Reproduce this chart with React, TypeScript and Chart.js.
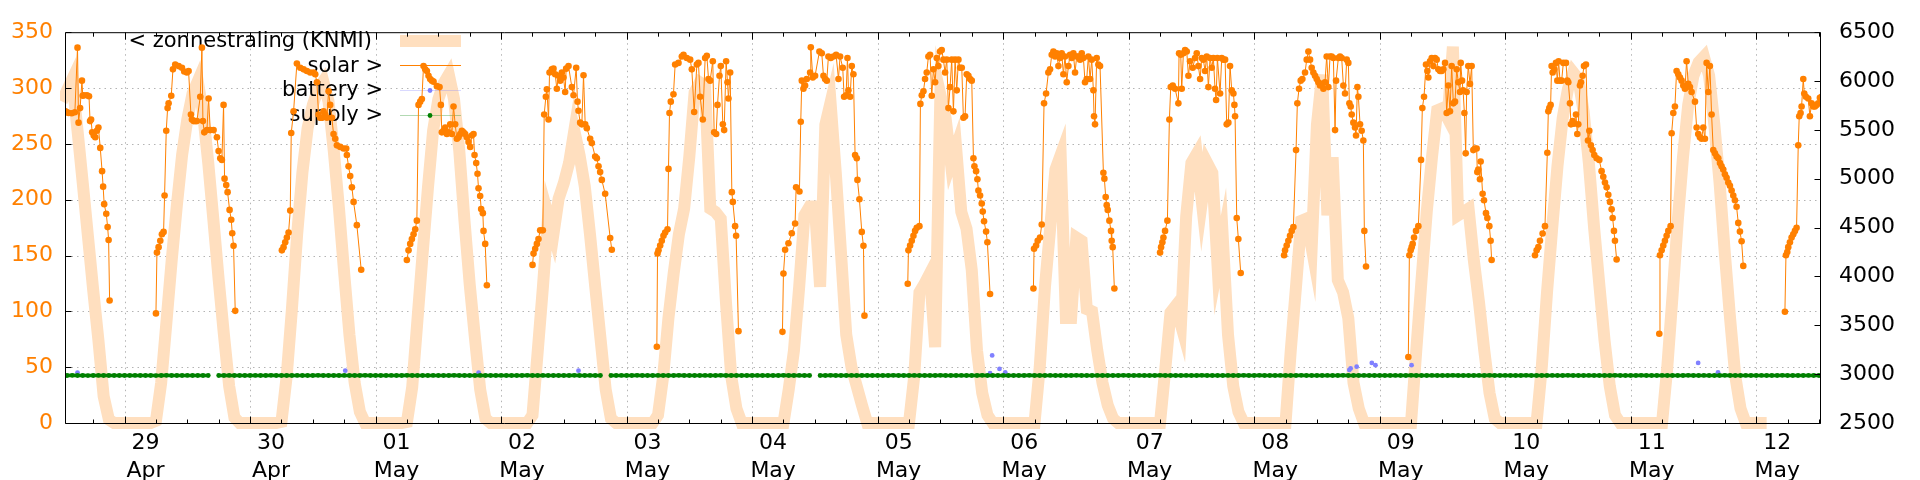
import React, { useEffect, useRef } from 'react';
import { Chart, registerables } from 'chart.js';

Chart.register(...registerables);

// x values: hours since 29 Apr 00:00
const X_MIN = -11.2;
const X_MAX = 324.2;

const dayNumbers = ['29', '30', '01', '02', '03', '04', '05', '06', '07', '08', '09', '10', '11', '12'];
const monthNames = ['Apr', 'Apr', 'May', 'May', 'May', 'May', 'May', 'May', 'May', 'May', 'May', 'May', 'May', 'May'];
const leftTicks = [0, 50, 100, 150, 200, 250, 300, 350];
const leftGrid = [50, 100, 150, 200, 250, 300];
const rightTicks = [2500, 3000, 3500, 4000, 4500, 5000, 5500, 6000, 6500];

const legendLabels = ['< zonnestraling (KNMI)', 'solar >', 'battery >', 'supply >'];

// KNMI hourly irradiation (left axis), per day, first value at given start hour
const knmi_0428 = [288, 298, 308, 262, 215, 167, 119, 74, 24, 3, 0, 0];
const knmi_0429 = [0, 0, 0, 0, 0, 0, 2, 36, 90, 145, 195, 240, 272, 295, 306, 278, 233, 181, 128, 79, 33, 5, 0, 0];
const knmi_0430 = [0, 0, 0, 0, 0, 0, 1, 42, 102, 169, 224, 264, 285, 299, 306, 288, 244, 192, 134, 79, 36, 10, 0, 0];
const knmi_0501 = [0, 0, 0, 0, 0, 0, 1, 32, 92, 152, 210, 262, 290, 304, 312, 290, 244, 181, 124, 76, 30, 4, 0, 0];
const knmi_0502 = [0, 0, 0, 0, 0, 0, 7, 64, 122, 186, 169, 201, 215, 233, 262, 240, 212, 169, 122, 76, 30, 4, 0, 0];
const knmi_0503 = [0, 0, 0, 0, 0, 0, 7, 42, 94, 134, 169, 192, 239, 296, 305, 302, 192, 189, 183, 108, 42, 13, 0, 0];
const knmi_0504 = [0, 0, 0, 0, 0, 0, 0, 30, 65, 122, 186, 194, 194, 122, 267, 287, 224, 152, 79, 50, 33, 16, 0, 0];
const knmi_0505 = [0, 0, 0, 0, 0, 0, 0, 42, 117, 125, 134, 68, 294, 273, 233, 247, 189, 174, 137, 65, 27, 7, 0, 0];
const knmi_0506 = [0, 0, 0, 0, 0, 0, 0, 50, 122, 175, 227, 240, 94, 94, 166, 163, 102, 100, 65, 36, 16, 4, 0, 0];
const knmi_0507 = [0, 0, 0, 0, 0, 0, 0, 48, 99, 105, 88, 185, 233, 241, 198, 233, 224, 141, 166, 79, 33, 10, 0, 0];
const knmi_0508 = [0, 0, 0, 0, 0, 0, 0, 65, 122, 181, 183, 157, 267, 312, 186, 238, 128, 117, 94, 36, 13, 0, 0, 0];
const knmi_0509 = [0, 0, 0, 0, 0, 0, 0, 65, 128, 189, 238, 280, 282, 273, 337, 186, 189, 192, 146, 108, 65, 27, 4, 0];
const knmi_0510 = [0, 0, 0, 0, 0, 0, 0, 50, 117, 175, 230, 273, 299, 314, 308, 279, 233, 175, 124, 74, 33, 7, 0, 0];
const knmi_0511 = [0, 0, 0, 0, 0, 0, 0, 50, 114, 181, 238, 285, 311, 323, 328, 311, 267, 215, 152, 94, 42, 13, 0, 0];
const knmi_0512 = [0, 0, 0];

// solar (right axis): [hour of day, value]
const solar_0428 = [[12.6, 5760], [12.7, 5690], [13.0, 5680], [13.3, 5673], [13.9, 5670], [14.5, 5680], [15.0, 6342], [15.2, 5574], [15.5, 5723], [15.85, 6004], [16.0, 5850], [16.2, 5855], [16.8, 5855], [17.2, 5845], [17.4, 5590], [17.6, 5607], [17.8, 5475], [18.1, 5442], [18.4, 5425], [18.7, 5491], [19.0, 5524], [19.35, 5316], [19.7, 5078], [19.9, 4919], [20.1, 4740], [20.5, 4641], [20.76, 4505], [20.95, 4373], [21.14, 3754]];
const solar_0429 = [[6.0, 3622], [6.19, 4244], [6.51, 4300], [6.83, 4366], [7.14, 4432], [7.46, 4456], [7.65, 4829], [7.97, 5491], [8.23, 5723], [8.42, 5772], [8.93, 5849], [9.25, 6120], [9.69, 6170], [10.33, 6153], [10.97, 6136], [11.41, 6097], [11.92, 6087], [12.24, 6103], [12.69, 5657], [12.88, 5607], [13.2, 5590], [13.52, 5590], [13.83, 5590], [14.47, 5839], [14.79, 6342], [14.98, 5590], [15.24, 5475], [15.75, 5498], [16.07, 5822], [16.38, 5498], [17.02, 5498], [17.66, 5425], [17.98, 5283], [18.3, 5210], [18.61, 5193], [18.93, 5756], [19.12, 5001], [19.44, 4935], [19.7, 4863], [20.08, 4681], [20.4, 4581], [20.59, 4442], [20.84, 4313], [21.16, 3648]];
const solar_0430 = [[6.08, 4267], [6.4, 4300], [6.72, 4350], [7.04, 4399], [7.36, 4449], [7.68, 4674], [7.87, 5468], [8.32, 5690], [8.95, 6179], [9.59, 6136], [10.23, 6120], [10.87, 6103], [11.5, 6087], [12.14, 6087], [12.46, 6070], [12.78, 5988], [13.09, 5657], [13.41, 5624], [13.73, 5624], [14.05, 5690], [14.37, 5657], [14.69, 5624], [15.01, 5895], [15.32, 5756], [15.64, 5624], [15.96, 5458], [16.28, 5409], [16.6, 5342], [17.24, 5326], [17.87, 5309], [18.38, 5309], [18.51, 5243], [18.83, 5127], [19.15, 5028], [19.47, 4912], [19.79, 4763], [20.42, 4525], [21.25, 4068]];
const solar_0501 = [[5.98, 4168], [6.3, 4267], [6.62, 4333], [6.94, 4383], [7.26, 4432], [7.58, 4482], [7.89, 4571], [8.21, 5756], [8.53, 5789], [8.85, 5815], [9.17, 6153], [9.49, 6120], [9.81, 6103], [10.12, 6054], [10.44, 6021], [10.76, 6004], [11.08, 5994], [11.72, 5948], [12.23, 5938], [12.48, 5756], [12.67, 5475], [12.99, 5491], [13.31, 5524], [13.63, 5458], [13.95, 5475], [14.27, 5557], [14.59, 5458], [14.9, 5739], [15.22, 5557], [15.54, 5409], [15.86, 5425], [16.18, 5458], [16.5, 5491], [16.82, 5475], [17.13, 5458], [17.45, 5425], [17.77, 5375], [18.09, 5326], [18.41, 5442], [18.73, 5458], [18.92, 5243], [19.24, 5160], [19.49, 5051], [19.68, 4902], [20.0, 4823], [20.19, 4691], [20.51, 4648], [20.64, 4466], [20.96, 4333], [21.28, 3910]];
const solar_0502 = [[6.01, 4118], [6.2, 4234], [6.52, 4284], [6.84, 4333], [7.15, 4383], [7.47, 4472], [7.98, 4472], [8.24, 5657], [8.56, 5839], [8.75, 5915], [9.07, 5607], [9.26, 6087], [9.7, 6120], [10.02, 6127], [10.34, 6070], [10.66, 5921], [10.98, 6054], [11.3, 6004], [11.62, 6087], [11.93, 6037], [12.25, 5888], [12.44, 6127], [12.89, 6153], [13.53, 5938], [13.85, 5855], [14.36, 6136], [14.61, 5789], [14.8, 5696], [15.12, 5574], [15.44, 5557], [15.76, 6060], [16.08, 5557], [16.39, 5518], [17.03, 5409], [17.35, 5365], [17.99, 5227], [18.31, 5210], [18.63, 5127], [18.94, 5068], [19.26, 4988], [19.9, 4846], [20.86, 4393], [21.17, 4274]];
const solar_0503 = [[5.78, 3281], [5.91, 4234], [6.1, 4267], [6.42, 4317], [6.73, 4366], [7.05, 4416], [7.37, 4449], [7.82, 4482], [8.01, 5101], [8.2, 5673], [8.45, 5789], [8.96, 5865], [9.28, 6170], [9.92, 6186], [10.56, 6252], [10.88, 6269], [11.51, 6236], [12.15, 6219], [12.47, 6120], [12.92, 5683], [13.43, 6170], [13.74, 6186], [14.06, 5839], [14.57, 5607], [15.02, 6236], [15.34, 6259], [15.66, 6021], [15.97, 6004], [16.48, 6203], [16.74, 5475], [17.12, 5458], [17.38, 5756], [17.76, 6054], [18.01, 6153], [18.4, 5557], [18.65, 5498], [19.03, 6203], [19.29, 5988], [19.48, 5822], [19.8, 6087], [20.12, 4863], [20.31, 4763], [20.75, 4515], [20.94, 4416], [21.39, 3440]];
const solar_0504 = [[5.8, 3433], [5.99, 4029], [6.31, 4274], [6.95, 4340], [7.58, 4442], [8.22, 4542], [8.41, 4912], [9.05, 4869], [9.3, 5584], [9.5, 6004], [9.81, 5921], [10.13, 5954], [10.45, 6021], [11.09, 6087], [11.22, 6345], [11.6, 6037], [12.04, 6054], [12.87, 6302], [13.32, 6285], [13.64, 6054], [13.96, 6021], [14.28, 6004], [14.59, 6252], [15.04, 6236], [15.55, 6252], [16.06, 6269], [16.51, 6021], [16.82, 6252], [17.33, 6136], [17.59, 5839], [17.97, 5855], [18.23, 6236], [18.42, 5905], [18.74, 5839], [19.06, 6153], [19.37, 6070], [19.69, 5243], [20.01, 5210], [20.14, 4988], [20.52, 4790], [20.97, 4456], [21.29, 4313], [21.48, 3599]];
const solar_0505 = [[5.76, 3926], [5.89, 4267], [6.21, 4317], [6.53, 4366], [6.85, 4416], [7.16, 4466], [7.48, 4499], [7.99, 4515], [8.18, 5766], [8.44, 5855], [8.76, 5895], [9.07, 6021], [9.39, 6087], [9.71, 6252], [10.03, 6269], [10.35, 5849], [10.67, 6120], [10.99, 5988], [11.3, 6236], [11.62, 6153], [11.94, 6302], [12.26, 6318], [12.58, 6219], [12.9, 6087], [13.22, 6219], [13.54, 5723], [13.85, 5938], [14.17, 6219], [14.49, 5690], [14.81, 6219], [15.13, 5905], [15.45, 6219], [15.77, 6136], [16.09, 6136], [16.4, 5624], [16.72, 5640], [17.04, 6070], [17.36, 6054], [17.68, 6021], [18.0, 6004], [18.32, 5210], [18.51, 5127], [18.83, 5078], [19.08, 4995], [19.27, 4879], [19.59, 4829], [19.91, 4747], [20.1, 4664], [20.35, 4565], [20.74, 4459], [20.99, 4350], [21.5, 3820]];
const solar_0506 = [[5.79, 3877], [5.91, 4284], [6.3, 4317], [6.61, 4366], [7.06, 4399], [7.38, 4532], [7.82, 5772], [8.21, 5872], [8.65, 6087], [8.97, 6120], [9.29, 6269], [9.61, 6302], [9.93, 6252], [10.25, 6285], [10.57, 6153], [10.88, 6236], [11.2, 6285], [11.52, 6070], [11.84, 6252], [12.16, 5988], [12.48, 6153], [12.8, 6269], [13.11, 6236], [13.43, 6285], [13.75, 6087], [14.07, 6252], [14.39, 6252], [14.71, 6219], [15.03, 6285], [15.35, 6236], [15.66, 5988], [15.98, 6021], [16.3, 6252], [16.62, 6021], [16.94, 6219], [17.26, 5905], [17.38, 5640], [17.57, 5557], [17.89, 6236], [18.21, 6170], [18.53, 6153], [19.17, 5061], [19.36, 5001], [19.61, 4813], [19.81, 4730], [20.0, 4681], [20.32, 4571], [20.63, 4466], [20.76, 4366], [20.95, 4300], [21.27, 3877]];
const solar_0507 = [[6.01, 4244], [6.2, 4300], [6.45, 4350], [6.65, 4399], [6.96, 4466], [7.41, 4571], [7.79, 5607], [8.05, 5938], [8.43, 5954], [8.88, 5921], [9.51, 5772], [9.64, 6285], [9.96, 6269], [10.15, 5921], [10.47, 6285], [10.79, 6318], [11.11, 6302], [11.43, 6054], [11.74, 6203], [12.25, 6136], [12.7, 6236], [13.02, 6285], [13.34, 6153], [13.66, 6021], [13.97, 6236], [14.29, 6219], [14.61, 6103], [14.93, 6252], [15.25, 5938], [15.57, 6236], [15.89, 6136], [16.2, 6236], [16.52, 5921], [16.72, 5806], [16.97, 6236], [17.48, 5872], [17.8, 6236], [18.12, 6219], [18.44, 6219], [18.75, 5557], [19.07, 5574], [19.39, 6153], [19.71, 5905], [20.03, 5872], [20.22, 5756], [20.35, 5640], [20.67, 4598], [20.98, 4383], [21.43, 4035]];
const solar_0508 = [[5.72, 4217], [5.91, 4267], [6.22, 4317], [6.54, 4366], [6.86, 4416], [7.18, 4466], [7.5, 4505], [8.01, 5293], [8.26, 5772], [8.58, 5921], [8.9, 6004], [9.22, 6021], [9.73, 6087], [10.05, 6219], [10.37, 6302], [10.69, 6219], [11.0, 6136], [11.32, 6087], [11.64, 6054], [11.96, 6021], [12.28, 5988], [12.6, 5954], [12.92, 5971], [13.24, 5921], [13.55, 5988], [13.87, 6252], [14.19, 5938], [14.51, 6252], [14.83, 6252], [15.15, 6236], [15.47, 5498], [15.66, 6004], [16.1, 6236], [16.42, 6252], [16.74, 6236], [17.06, 5954], [17.38, 5872], [17.7, 6219], [18.01, 6186], [18.21, 5772], [18.46, 5739], [18.65, 5657], [18.97, 5574], [19.29, 5524], [19.48, 5442], [19.74, 5938], [19.93, 5839], [20.25, 5557], [20.56, 5491], [20.88, 5392], [21.07, 4466], [21.39, 4102]];
const solar_0509 = [[5.48, 3175], [5.68, 4217], [5.93, 4267], [6.12, 4300], [6.31, 4333], [6.57, 4399], [6.95, 4466], [7.4, 4515], [7.91, 5193], [8.16, 5723], [8.48, 5839], [8.86, 6170], [9.12, 6103], [9.31, 6037], [9.63, 6203], [9.95, 6236], [10.27, 6153], [10.58, 6236], [10.9, 6219], [11.22, 6120], [11.54, 6103], [11.86, 6103], [12.18, 6120], [12.5, 6186], [12.81, 5673], [13.13, 5954], [13.45, 5690], [13.77, 6153], [14.09, 5772], [14.41, 5789], [14.73, 6120], [15.04, 5988], [15.36, 5888], [15.5, 6186], [15.75, 6004], [15.95, 5905], [16.2, 5673], [16.45, 5260], [16.63, 5888], [16.95, 6153], [17.27, 5971], [17.59, 6153], [17.91, 5293], [18.23, 5309], [18.55, 5309], [18.67, 5068], [18.86, 5094], [19.18, 4995], [19.31, 5177], [19.69, 4846], [19.95, 4780], [20.33, 4648], [20.59, 4598], [20.97, 4515], [21.22, 4366], [21.41, 4168]];
const solar_0510 = [[5.7, 4217], [6.02, 4267], [6.34, 4300], [6.65, 4366], [7.16, 4439], [7.61, 4515], [8.06, 5266], [8.25, 5690], [8.44, 5723], [8.69, 5756], [8.88, 6153], [9.08, 6087], [9.39, 6120], [9.71, 6186], [9.97, 6004], [10.22, 6203], [10.48, 6004], [10.8, 6004], [11.12, 6186], [11.63, 6186], [11.88, 6004], [12.07, 5988], [12.39, 5772], [12.58, 5557], [12.9, 5590], [13.15, 5564], [13.54, 5657], [13.79, 5458], [13.98, 5557], [14.3, 5954], [14.49, 5988], [14.81, 6054], [15.07, 6153], [15.45, 6170], [15.83, 5392], [16.09, 5491], [16.4, 5342], [16.72, 5293], [17.04, 5243], [17.49, 5210], [18.0, 5193], [18.44, 5078], [18.76, 5021], [19.08, 4962], [19.4, 4912], [19.72, 4836], [20.04, 4763], [20.36, 4687], [20.55, 4598], [20.8, 4466], [20.99, 4366], [21.31, 4174]];
const solar_0511 = [[5.47, 3413], [5.6, 4217], [5.92, 4267], [6.23, 4317], [6.55, 4366], [6.87, 4416], [7.19, 4466], [7.63, 4515], [7.83, 5465], [8.15, 5673], [8.46, 5739], [8.78, 6103], [9.1, 6070], [9.42, 6037], [9.74, 6004], [10.06, 5954], [10.38, 5921], [10.69, 6203], [11.01, 5971], [11.33, 5938], [11.65, 5888], [12.29, 5789], [12.61, 5524], [12.92, 5458], [13.24, 5425], [13.56, 5409], [13.88, 5524], [14.2, 5409], [14.52, 6186], [14.84, 5888], [15.15, 6153], [15.47, 5657], [15.79, 5293], [16.11, 5260], [16.43, 5227], [16.75, 5210], [17.07, 5160], [17.38, 5127], [17.7, 5094], [18.02, 5045], [18.34, 5011], [18.66, 4962], [18.98, 4929], [19.3, 4879], [19.62, 4829], [19.93, 4780], [20.25, 4714], [20.57, 4548], [20.89, 4459], [21.21, 4360], [21.53, 4108]];
const solar_0512 = [[5.49, 3638], [5.69, 4217], [5.94, 4250], [6.13, 4300], [6.45, 4350], [6.77, 4399], [7.09, 4432], [7.41, 4466], [7.72, 4499], [8.04, 5342], [8.23, 5640], [8.49, 5673], [8.68, 5739], [9.0, 6021], [9.19, 5872], [9.51, 5839], [9.95, 5822], [10.27, 5640], [10.59, 5772], [10.91, 5739], [11.23, 5739], [11.55, 5756], [11.87, 5772], [12.18, 5829], [12.5, 5839]];

// battery (right axis): [hours since 29 Apr 00:00, value]
const batteryPoints = [[-9.0, 3016], [42.2, 3036], [67.7, 3016], [86.8, 3036], [165.5, 3009], [165.9, 3192], [167.3, 3053], [168.4, 3019], [234.2, 3043], [234.45, 3059], [235.6, 3076], [238.5, 3115], [239.2, 3092], [246.1, 3092], [300.9, 3115], [304.7, 3019]];

// supply (right axis), hourly
const supply_0428 = [2986, 2986, 2988, 2986, 2986, 2985, 2986, 2987, 2986, 2986, 2986, 2986];
const supply_0429 = [2986, 2986, 2987, 2986, 2986, 2986, 2985, 2986, 2988, 2986, 2986, 2986, 2987, 2986, 2986, 2986, 2986, null, 2986, 2986, 2987, 2986, 2986, 2986];
const supply_0430 = [2986, 2987, 2986, 2986, 2988, 2986, 2986, 2986, 2986, 2987, 2986, 2986, 2986, 2988, 2986, 2986, 2986, 2986, 2987, 2986, 2986, 2986, 2988, 2986];
const supply_0501 = [2986, 2986, 2986, 2987, 2986, 2986, 2988, 2986, 2986, 2986, 2986, 2987, 2986, 2986, 2986, 2988, 2986, 2986, 2986, 2986, 2987, 2986, 2986, 2986];
const supply_0502 = [2987, 2986, 2986, 2986, 2986, 2988, 2986, 2986, 2987, 2986, 2986, 2986, 2986, 2986, 2988, 2986, 2986, 2987, 2986, 2986, null, 2986, 2986, 2987];
const supply_0503 = [2986, 2986, 2988, 2986, 2986, 2986, 2987, 2986, 2986, 2986, 2988, 2986, 2986, 2986, 2986, 2987, 2986, 2986, 2988, 2986, 2986, 2986, 2986, 2986];
const supply_0504 = [2986, 2987, 2986, 2986, 2986, 2986, 2988, 2986, 2986, 2987, 2986, 2986, null, 2986, 2986, 2988, 2986, 2986, 2986, 2987, 2986, 2986, 2986, 2986];
const supply_0505 = [2986, 2986, 2986, 2988, 2986, 2986, 2986, 2987, 2986, 2986, 2986, 2986, 2988, 2986, 2986, 2986, 2987, 2986, 2986, 2986, 2988, 2986, 2986, 2986];
const supply_0506 = [2987, 2986, 2986, 2986, 2986, 2988, 2986, 2986, 2986, 2987, 2986, 2986, 2986, 2986, 2988, 2986, 2986, 2986, 2987, 2986, 2986, 2986, 2986, 2988];
const supply_0507 = [2986, 2986, 2987, 2986, 2986, 2986, 2988, 2986, 2986, 2986, 2986, 2987, 2986, 2986, 2988, 2986, 2986, 2986, 2986, 2987, 2986, 2986, 2988, 2986];
const supply_0508 = [2986, 2988, 2986, 2986, 2986, 2987, 2986, 2986, 2986, 2988, 2986, 2986, 2986, 2986, 2987, 2986, 2986, 2988, 2986, 2986, 2986, 2987, 2986, 2986];
const supply_0509 = [2986, 2986, 2986, 2987, 2986, 2986, 2988, 2986, 2986, 2986, 2987, 2986, 2986, 2986, 2988, 2986, 2986, 2986, 2986, 2987, 2986, 2988, 2986, 2986];
const supply_0510 = [2987, 2986, 2986, 2986, 2988, 2986, 2986, 2986, 2986, 2987, 2986, 2986, 2988, 2986, 2986, 2986, 2987, 2986, 2986, 2986, 2986, 2988, 2986, 2986];
const supply_0511 = [2986, 2986, 2988, 2986, 2986, 2986, 2987, 2986, 2986, 2986, 2986, 2988, 2986, 2986, 2987, 2986, 2986, 2986, 2988, 2986, 2986, 2986, 2987, 2986];
const supply_0512 = [2986, 2987, 2986, 2986, 2986, 2988, 2986, 2986, 2986, 2986, 2987, 2986, 2986];

// [day offset from 29 Apr, first hour, values]
const knmiDays: [number, number, number[]][] = [
  [-1, 12, knmi_0428], [0, 0, knmi_0429], [1, 0, knmi_0430], [2, 0, knmi_0501], [3, 0, knmi_0502],
  [4, 0, knmi_0503], [5, 0, knmi_0504], [6, 0, knmi_0505], [7, 0, knmi_0506], [8, 0, knmi_0507],
  [9, 0, knmi_0508], [10, 0, knmi_0509], [11, 0, knmi_0510], [12, 0, knmi_0511], [13, 0, knmi_0512],
];
const supplyDays: [number, number, (number | null)[]][] = [
  [-1, 12, supply_0428], [0, 0, supply_0429], [1, 0, supply_0430], [2, 0, supply_0501], [3, 0, supply_0502],
  [4, 0, supply_0503], [5, 0, supply_0504], [6, 0, supply_0505], [7, 0, supply_0506], [8, 0, supply_0507],
  [9, 0, supply_0508], [10, 0, supply_0509], [11, 0, supply_0510], [12, 0, supply_0511], [13, 0, supply_0512],
];
const solarDays: [number, number[][]][] = [
  [-1, solar_0428], [0, solar_0429], [1, solar_0430], [2, solar_0501], [3, solar_0502],
  [4, solar_0503], [5, solar_0504], [6, solar_0505], [7, solar_0506], [8, solar_0507],
  [9, solar_0508], [10, solar_0509], [11, solar_0510], [12, solar_0511], [13, solar_0512],
];

const ORANGE = '#ff8000';
const BAND = '#ffdfbf';
const BLUE = '#8080ff';
const GREEN = '#008000';
const FONT = "'DejaVu Sans', sans-serif";

const dayTickHours = dayNumbers.map((_, i) => i * 24);

function hourlySeries(days: [number, number, (number | null)[]][]) {
  const out: { x: number; y: number | null }[] = [];
  days.forEach(([off, start, vals]) => {
    vals.forEach((v, i) => out.push({ x: off * 24 + start + i, y: v }));
  });
  return out;
}

function solarSeries() {
  const out: { x: number; y: number | null }[] = [];
  solarDays.forEach(([off, pts]) => {
    pts.forEach(([h, v]) => out.push({ x: off * 24 + h, y: v }));
    out.push({ x: off * 24 + 23, y: null });
  });
  return out;
}

const framePlugin = {
  id: 'frame',
  beforeDatasetsDraw(chart: any) {
    const { ctx, chartArea: a, scales } = chart;
    ctx.save();
    ctx.strokeStyle = '#b4b4b4';
    ctx.lineWidth = 1;
    ctx.setLineDash([1.5, 4]);
    leftGrid.forEach((v) => {
      const y = Math.round(scales.y.getPixelForValue(v)) + 0.5;
      ctx.beginPath();
      ctx.moveTo(a.left, y);
      ctx.lineTo(a.right, y);
      ctx.stroke();
    });
    dayTickHours.forEach((h) => {
      const x = Math.round(scales.x.getPixelForValue(h)) + 0.5;
      ctx.beginPath();
      ctx.moveTo(x, a.top);
      ctx.lineTo(x, a.bottom);
      ctx.stroke();
    });
    ctx.restore();
  },
  afterDatasetDraw(chart: any, args: any) {
    if (args.index !== 0) return;
    const { ctx } = chart;
    ctx.save();
    ctx.font = `21px ${FONT}`;
    ctx.fillStyle = '#000';
    ctx.textAlign = 'right';
    ctx.textBaseline = 'middle';
    ctx.fillText(legendLabels[0], 372, 42);
    ctx.fillText(legendLabels[1], 383, 67);
    ctx.fillText(legendLabels[2], 383, 91);
    ctx.fillText(legendLabels[3], 383, 116);
    // samples
    ctx.lineCap = 'butt';
    ctx.strokeStyle = BAND;
    ctx.lineWidth = 12;
    ctx.beginPath(); ctx.moveTo(400, 41); ctx.lineTo(461, 41); ctx.stroke();
    ctx.strokeStyle = ORANGE;
    ctx.lineWidth = 1;
    ctx.beginPath(); ctx.moveTo(400, 65.5); ctx.lineTo(461, 65.5); ctx.stroke();
    ctx.strokeStyle = 'rgba(128,128,255,0.3)';
    ctx.beginPath(); ctx.moveTo(400, 90.5); ctx.lineTo(461, 90.5); ctx.stroke();
    ctx.fillStyle = BLUE;
    ctx.beginPath(); ctx.arc(430, 90.5, 2.4, 0, Math.PI * 2); ctx.fill();
    ctx.strokeStyle = 'rgba(0,128,0,0.3)';
    ctx.beginPath(); ctx.moveTo(400, 115.5); ctx.lineTo(461, 115.5); ctx.stroke();
    ctx.fillStyle = GREEN;
    ctx.beginPath(); ctx.arc(430, 115.5, 2.4, 0, Math.PI * 2); ctx.fill();
    ctx.restore();
  },
  afterDatasetsDraw(chart: any) {
    const { ctx, chartArea: a, scales } = chart;
    ctx.save();
    ctx.strokeStyle = '#000';
    ctx.lineWidth = 1;
    const L = a.left - 0.5, R = a.right + 0.5, T = a.top + 0.5, B = a.bottom + 0.5;
    ctx.beginPath();
    ctx.moveTo(L, T); ctx.lineTo(R, T); ctx.lineTo(R, B); ctx.lineTo(L, B); ctx.closePath();
    ctx.stroke();
    ctx.beginPath();
    leftTicks.forEach((v) => {
      const y = Math.round(scales.y.getPixelForValue(v)) + 0.5;
      ctx.moveTo(L, y); ctx.lineTo(L + 6, y);
    });
    rightTicks.forEach((v) => {
      const y = Math.round(scales.y2.getPixelForValue(v)) + 0.5;
      ctx.moveTo(R - 6, y); ctx.lineTo(R, y);
    });
    for (let h = Math.ceil(X_MIN / 6) * 6; h <= X_MAX; h += 6) {
      const x = Math.round(scales.x.getPixelForValue(h)) + 0.5;
      const len = h % 24 === 0 ? 7 : 4;
      ctx.moveTo(x, B); ctx.lineTo(x, B - len);
      ctx.moveTo(x, T); ctx.lineTo(x, T + len);
    }
    ctx.stroke();
    ctx.restore();
  },
};

export default function App() {
  const ref = useRef<HTMLCanvasElement | null>(null);

  useEffect(() => {
    if (!ref.current) return;
    Chart.defaults.font.family = FONT;
    const chart = new Chart(ref.current, {
      type: 'line',
      data: {
        datasets: [
          {
            label: 'zonnestraling (KNMI)',
            data: hourlySeries(knmiDays),
            yAxisID: 'y',
            borderColor: BAND,
            borderWidth: 12,
            pointRadius: 0,
            tension: 0,
            order: 4,
            clip: { left: 6, top: 8, right: 8, bottom: 8 } as any,
          },
          {
            label: 'solar',
            data: solarSeries(),
            yAxisID: 'y2',
            borderColor: ORANGE,
            borderWidth: 1,
            pointRadius: 3.3,
            pointBorderWidth: 0,
            pointBackgroundColor: ORANGE,
            spanGaps: false,
            tension: 0,
            order: 3,
          },
          {
            label: 'battery',
            data: batteryPoints.map(([x, y]) => ({ x, y })),
            yAxisID: 'y2',
            showLine: false,
            borderColor: BLUE,
            pointRadius: 2.4,
            pointBorderWidth: 0,
            pointBackgroundColor: BLUE,
            order: 2,
          },
          {
            label: 'supply',
            data: hourlySeries(supplyDays),
            yAxisID: 'y2',
            borderColor: GREEN,
            borderWidth: 3.5,
            pointRadius: 2.4,
            pointBorderWidth: 0,
            pointBackgroundColor: GREEN,
            spanGaps: false,
            tension: 0,
            order: 1,
          },
        ] as any,
      },
      options: {
        animation: false,
        responsive: true,
        maintainAspectRatio: false,
        events: [],
        layout: { padding: { top: 20, left: 0, right: 0, bottom: 0 } },
        plugins: { legend: { display: false }, tooltip: { enabled: false } },
        scales: {
          x: {
            type: 'linear',
            min: X_MIN,
            max: X_MAX,
            afterBuildTicks: (axis: any) => {
              axis.ticks = dayTickHours.map((v) => ({ value: v }));
            },
            afterFit: (s: any) => { s.height = 57; },
            grid: { display: false, drawTicks: false },
            border: { display: false },
            ticks: {
              autoSkip: false,
              maxRotation: 0,
              minRotation: 0,
              labelOffset: 21,
              padding: 6.5,
              color: '#000',
              font: { size: 22, lineHeight: '28px' },
              callback: (_v: any, i: number) => [dayNumbers[i], monthNames[i]],
            },
          },
          y: {
            position: 'left',
            min: 0,
            max: 350,
            afterFit: (s: any) => { s.width = 66; },
            grid: { display: false, drawTicks: false },
            border: { display: false },
            ticks: { stepSize: 50, color: ORANGE, padding: 13, font: { size: 22 }, callback: (v: any) => String(v) },
          },
          y2: {
            position: 'right',
            min: 2500,
            max: 6500,
            afterFit: (s: any) => { s.width = 100; },
            grid: { display: false, drawTicks: false },
            border: { display: false },
            ticks: { stepSize: 500, color: '#000', padding: 19, font: { size: 22 }, callback: (v: any) => String(v) },
          },
        } as any,
      },
      plugins: [framePlugin],
    });
    return () => chart.destroy();
  }, []);

  return (
    <div style={{ position: 'fixed', left: 0, top: 0, width: 1920, height: 480, background: '#fff' }}>
      <canvas ref={ref} />
    </div>
  );
}
